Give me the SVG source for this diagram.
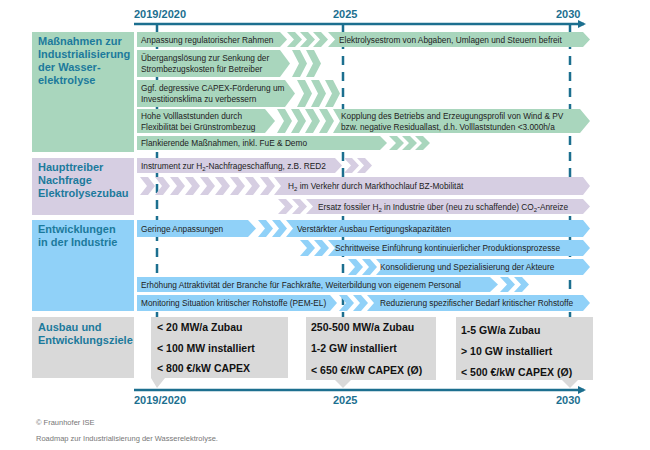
<svg xmlns="http://www.w3.org/2000/svg" xmlns:xlink="http://www.w3.org/1999/xlink" width="650" height="450" viewBox="0 0 650 450">
<style>
.t{font-family:"Liberation Sans",Arial,sans-serif;font-size:8.3px;fill:#222}
.c{font-family:"Liberation Sans",Arial,sans-serif;font-size:11px;font-weight:bold;fill:#1c7a9c}
.y{font-family:"Liberation Sans",Arial,sans-serif;font-size:11px;font-weight:bold;fill:#1c6f8f}
.g{font-family:"Liberation Sans",Arial,sans-serif;font-size:10.5px;font-weight:bold;fill:#111}
.f{font-family:"Liberation Sans",Arial,sans-serif;font-size:7.5px;fill:#777}
.gr{fill:#a9d6bd}.pu{fill:#d6cee2}.bl{fill:#90d1f8}.gy{fill:#d9d9d9}
.d{stroke:#1c6f8f;stroke-width:2.5;stroke-dasharray:9,7;fill:none}
</style>
<defs>
<path id="ch" d="M0,0 h8 l7,0.5 l-7,0.5 h-8 l7,-0.5z"/>
<marker id="ar" markerWidth="8" markerHeight="8" refX="6" refY="4" orient="auto" markerUnits="userSpaceOnUse"><path d="M0,0 L8,4 L0,8z" fill="#1c6f8f"/></marker>
</defs>
<g id="axes">
<line x1="134" y1="24" x2="584" y2="24" stroke="#1c6f8f" stroke-width="2.5" marker-end="url(#ar)"/>
<line x1="134" y1="390" x2="584" y2="390" stroke="#1c6f8f" stroke-width="2.5" marker-end="url(#ar)"/>
<text class="y" x="134" y="18">2019/2020</text><text class="y" x="333" y="18">2025</text><text class="y" x="556" y="18">2030</text>
<text class="y" x="134" y="404">2019/2020</text><text class="y" x="333" y="404">2025</text><text class="y" x="556" y="404">2030</text>
<line class="d" x1="157" y1="24" x2="157" y2="390"/>
<line class="d" x1="343" y1="24" x2="343" y2="390"/>
<line class="d" x1="570" y1="24" x2="570" y2="390"/>
</g>
<g id="cat1"><rect class="gr" x="32" y="32" width="102" height="120"/>
<text class="c" x="38" y="45">Maßnahmen zur</text><text class="c" x="38" y="58">Industrialisierung</text><text class="c" x="38" y="71">der Wasser-</text><text class="c" x="38" y="84">elektrolyse</text></g>
<g id="cat2"><rect class="pu" x="32" y="158" width="102" height="57"/>
<text class="c" x="38" y="171">Haupttreiber</text><text class="c" x="38" y="184">Nachfrage</text><text class="c" x="38" y="197">Elektrolysezubau</text></g>
<g id="cat3"><rect class="bl" x="32" y="220" width="102" height="91"/>
<text class="c" x="38" y="233">Entwicklungen</text><text class="c" x="38" y="246">in der Industrie</text></g>
<g id="cat4"><rect class="gy" x="32" y="317" width="102" height="61"/>
<text class="c" x="38" y="331">Ausbau und</text><text class="c" x="38" y="344">Entwicklungsziele</text></g>
<g id="rows">
<g class="gr">
<polygon points="137,32 280,32 287,39.5 280,47 137,47"/>
<use href="#ch" transform="translate(287,32) scale(1,15)"/><use href="#ch" transform="translate(300,32) scale(1,15)"/><use href="#ch" transform="translate(313,32) scale(1,15)"/>
<polygon points="328,32 583,32 590,39.5 583,47 328,47 335,39.5"/>
<polygon points="137,50 280,50 290,63.5 280,77 137,77"/>
<use href="#ch" transform="translate(292,50) scale(1,27)"/><use href="#ch" transform="translate(306,50) scale(1,27)"/>
<polygon points="137,80 285,80 295,93.5 285,107 137,107"/>
<use href="#ch" transform="translate(297,80) scale(1,27)"/><use href="#ch" transform="translate(311,80) scale(1,27)"/><use href="#ch" transform="translate(325,80) scale(1,27)"/>
<polygon points="137,109 265,109 275,121 265,133 137,133"/>
<use href="#ch" transform="translate(277,109) scale(1,24)"/><use href="#ch" transform="translate(291,109) scale(1,24)"/><use href="#ch" transform="translate(305,109) scale(1,24)"/><use href="#ch" transform="translate(319,109) scale(1,24)"/>
<polygon points="333,109 580,109 590,121 580,133 333,133 340,121"/>
<polygon points="137,136 380,136 387,143 380,150 137,150"/>
<use href="#ch" transform="translate(389,136) scale(1,14)"/><use href="#ch" transform="translate(402,136) scale(1,14)"/><use href="#ch" transform="translate(415,136) scale(1,14)"/>
</g>
<g class="pu">
<polygon points="137,158 335,158 342,165.5 335,173 137,173"/>
<use href="#ch" transform="translate(344,158) scale(1,15)"/><use href="#ch" transform="translate(357,158) scale(1,15)"/>
<use href="#ch" transform="translate(140,177) scale(1,18)"/><use href="#ch" transform="translate(155,177) scale(1,18)"/><use href="#ch" transform="translate(170,177) scale(1,18)"/><use href="#ch" transform="translate(185,177) scale(1,18)"/><use href="#ch" transform="translate(200,177) scale(1,18)"/><use href="#ch" transform="translate(215,177) scale(1,18)"/><use href="#ch" transform="translate(230,177) scale(1,18)"/><use href="#ch" transform="translate(245,177) scale(1,18)"/><use href="#ch" transform="translate(260,177) scale(1,18)"/>
<polygon points="274,177 583,177 590,186 583,195 274,195 281,186"/>
<use href="#ch" transform="translate(278,199) scale(1,15)"/><use href="#ch" transform="translate(292,199) scale(1,15)"/>
<polygon points="306,199 583,199 590,206.5 583,214 306,214 313,206.5"/>
</g>
<g class="bl">
<polygon points="137,220 248,220 256,228.5 248,237 137,237"/>
<use href="#ch" transform="translate(258,220) scale(1,17)"/><use href="#ch" transform="translate(272,220) scale(1,17)"/>
<polygon points="286,220 583,220 590,228.5 583,237 286,237 293,228.5"/>
<use href="#ch" transform="translate(300,240) scale(1,16)"/><use href="#ch" transform="translate(314,240) scale(1,16)"/>
<polygon points="328,240 583,240 590,248 583,256 328,256 335,248"/>
<use href="#ch" transform="translate(348,259) scale(1,16)"/><use href="#ch" transform="translate(362,259) scale(1,16)"/>
<polygon points="376,259 583,259 590,267 583,275 376,275 383,267"/>
<polygon points="137,277 490,277 498,284.5 490,292 137,292"/>
<use href="#ch" transform="translate(500,277) scale(1,15)"/><use href="#ch" transform="translate(514,277) scale(1,15)"/>
<polygon points="137,295 330,295 337,303 330,311 137,311"/>
<use href="#ch" transform="translate(339,295) scale(1,16)"/><use href="#ch" transform="translate(353,295) scale(1,16)"/>
<polygon points="367,295 583,295 590,303 583,311 367,311 374,303"/>
</g>
<text class="t" x="141" y="42.5">Anpassung regulatorischer Rahmen</text>
<text class="t" x="339" y="42.5">Elektrolysestrom von Abgaben, Umlagen und Steuern befreit</text>
<text class="t" x="141" y="61">Übergangslösung zur Senkung der</text><text class="t" x="141" y="72">Strombezugskosten für Betreiber</text>
<text class="t" x="141" y="91">Ggf. degressive CAPEX-Förderung um</text><text class="t" x="141" y="102">Investitionsklima zu verbessern</text>
<text class="t" x="141" y="119">Hohe Volllaststunden durch</text><text class="t" x="141" y="130">Flexibilität bei Grünstrombezug</text>
<text class="t" x="341" y="119">Kopplung des Betriebs and Erzeugungsprofil von Wind &amp; PV</text><text class="t" x="341" y="130">bzw. negative Residuallast, d.h. Volllaststunden &lt;3.000h/a</text>
<text class="t" x="141" y="146">Flankierende Maßnahmen, inkl. FuE &amp; Demo</text>
<text class="t" x="141" y="168.5">Instrument zur H<tspan font-size="6" dy="2">2</tspan><tspan dy="-2">-Nachfrageschaffung, z.B. RED2</tspan></text>
<text class="t" x="288" y="189">H<tspan font-size="6" dy="2">2</tspan><tspan dy="-2"> im Verkehr durch Markthochlauf BZ-Mobilität</tspan></text>
<text class="t" x="318" y="209.5">Ersatz fossiler H<tspan font-size="6" dy="2">2</tspan><tspan dy="-2"> in Industrie über (neu zu schaffende) CO</tspan><tspan font-size="6" dy="2">2</tspan><tspan dy="-2">-Anreize</tspan></text>
<text class="t" x="141" y="231.5">Geringe Anpassungen</text>
<text class="t" x="297" y="231.5">Verstärkter Ausbau Fertigungskapazitäten</text>
<text class="t" x="335" y="251">Schrittweise Einführung kontinuierlicher Produktionsprozesse</text>
<text class="t" x="380" y="270">Konsolidierung und Spezialisierung der Akteure</text>
<text class="t" x="141" y="287.5">Erhöhung Attraktivität der Branche für Fachkräfte, Weiterbildung von eigenem Personal</text>
<text class="t" x="141" y="306">Monitoring Situation kritischer Rohstoffe (PEM-EL)</text>
<text class="t" x="380" y="306">Reduzierung spezifischer Bedarf kritischer Rohstoffe</text>
</g>
<g id="goal1"><polygon class="gy" points="151,317 288,317 288,378 165,378 157,388 151,378"/>
<text class="g" x="157" y="331">&lt; 20 MW/a Zubau</text><text class="g" x="157" y="352">&lt; 100 MW installiert</text><text class="g" x="157" y="372">&lt; 800 €/kW CAPEX</text></g>
<g id="goal2"><polygon class="gy" points="306,317 436,317 436,380 351,380 343,388 335,380 306,380"/>
<text class="g" x="311" y="331">250-500 MW/a Zubau</text><text class="g" x="311" y="352">1-2 GW installiert</text><text class="g" x="311" y="374">&lt; 650 €/kW CAPEX (Ø)</text></g>
<g id="goal3"><polygon class="gy" points="456,317 593,317 593,380 578,380 570,388 562,380 456,380"/>
<text class="g" x="461" y="334">1-5 GW/a Zubau</text><text class="g" x="461" y="355">&gt; 10 GW installiert</text><text class="g" x="461" y="376">&lt; 500 €/kW CAPEX (Ø)</text></g>
<g id="footer"><text class="f" x="36" y="425">© Fraunhofer ISE</text><text class="f" x="36" y="441">Roadmap zur Industrialisierung der Wasserelektrolyse.</text></g>
</svg>
